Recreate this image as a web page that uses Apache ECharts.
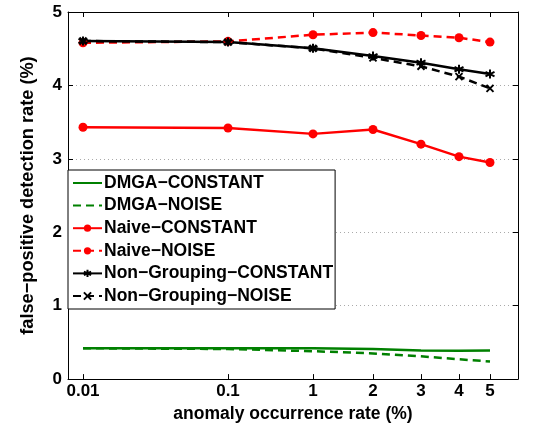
<!DOCTYPE html>
<html><head><meta charset="utf-8">
<script src="https://cdn.jsdelivr.net/npm/echarts@6/dist/echarts.min.js"></script>
<style>html,body{margin:0;padding:0;background:#fff}#c{width:546px;height:428px}</style>
</head><body><div id="c"></div>
<script>
// Category labels of the x axis and their (non-uniform) positions along the axis scale
const rateLabels = ['0.01', '0.1', '1', '2', '3', '4', '5'];
const ratePos = [0.15, 1.6, 2.45, 3.05, 3.53, 3.91, 4.22];
const xMin = 0, xMax = 4.5;
const yTicks = [0, 1, 2, 3, 4, 5];

const dmgaConstant = [0.42, 0.42, 0.42, 0.41, 0.39, 0.385, 0.39];
const dmgaNoise = [0.42, 0.41, 0.38, 0.35, 0.31, 0.27, 0.24];
const naiveConstant = [3.43, 3.42, 3.34, 3.40, 3.20, 3.03, 2.95];
const naiveNoise = [4.58, 4.60, 4.69, 4.72, 4.68, 4.65, 4.59];
const ngConstant = [4.605, 4.59, 4.505, 4.40, 4.31, 4.22, 4.155];
const ngNoise = [4.605, 4.59, 4.505, 4.375, 4.26, 4.12, 3.96];

const pair = arr => arr.map((v, i) => [ratePos[i], v]);
const FONT = 'Liberation Sans, Arial, sans-serif';
const asterisk = 'path://M0,-5 L0,5 M-4.3,-2.5 L4.3,2.5 M-4.3,2.5 L4.3,-2.5';
const cross = 'path://M-4,-4 L4,4 M-4,4 L4,-4';

function mk(name, data, color, dashed, symbol, size) {
  return {
    name, type: 'line', data: pair(data), color,
    lineStyle: { color, width: 2.5, type: dashed ? [8, 5] : 'solid' },
    symbol: symbol || 'none', symbolSize: size || 8, showSymbol: !!symbol,
    itemStyle: { color, borderColor: color, borderWidth: symbol && symbol.startsWith('path') ? 2 : 0 },
    emphasis: { disabled: true }, animation: false, z: 3
  };
}
const chart = echarts.init(document.getElementById('c'), null, { renderer: 'canvas' });
const tickLabel = v => { const i = ratePos.findIndex(p => Math.abs(p - v) < 1e-6); return i >= 0 ? rateLabels[i] : ''; };
const hidden = { opacity: 0 };
chart.setOption({
  animation: false,
  grid: { left: 68, right: 28, top: 12, bottom: 45, show: false },
  legend: {
    orient: 'vertical', left: 68, top: 170,
    backgroundColor: '#fff', borderColor: '#000', borderWidth: 1,
    padding: [4, 2, 4, 4], itemGap: 4.6, itemWidth: 29, itemHeight: 9,
    textStyle: { fontFamily: FONT, fontWeight: 'bold', fontSize: 17.5, color: '#000', padding: [0, 0, 0, -3] },
    data: [
      { name: 'DMGA\u2212CONSTANT', itemStyle: hidden },
      { name: 'DMGA\u2212NOISE', itemStyle: hidden },
      'Naive\u2212CONSTANT', 'Naive\u2212NOISE',
      'Non\u2212Grouping\u2212CONSTANT', 'Non\u2212Grouping\u2212NOISE'],
    z: 10
  },
  xAxis: [{
    type: 'value', min: xMin, max: xMax, position: 'bottom',
    name: 'anomaly occurrence rate (%)', nameLocation: 'middle', nameGap: 22,
    nameTextStyle: { fontFamily: FONT, fontWeight: 'bold', fontSize: 17.5, color: '#000' },
    axisLine: { show: true, onZero: false, lineStyle: { color: '#000', width: 1 } },
    axisTick: { show: true, inside: true, length: 5, customValues: ratePos, lineStyle: { color: '#000' } },
    axisLabel: { customValues: ratePos, formatter: tickLabel, fontFamily: FONT, fontWeight: 'bold', fontSize: 17, color: '#000', margin: 4 },
    splitLine: { show: false }
  }, {
    type: 'value', min: xMin, max: xMax, position: 'top',
    axisLine: { show: true, onZero: false, lineStyle: { color: '#000', width: 1 } },
    axisTick: { show: true, inside: true, length: 5, customValues: ratePos, lineStyle: { color: '#000' } },
    axisLabel: { show: false }, splitLine: { show: false }
  }],
  yAxis: [{
    type: 'value', min: 0, max: 5, interval: 1, position: 'left',
    name: 'false\u2212positive detection rate (%)', nameLocation: 'middle', nameGap: 31,
    nameTextStyle: { fontFamily: FONT, fontWeight: 'bold', fontSize: 18.2, color: '#000' },
    axisLine: { show: true, onZero: false, lineStyle: { color: '#000', width: 1 } },
    axisTick: { show: true, inside: true, length: 5, lineStyle: { color: '#000' } },
    axisLabel: { formatter: v => yTicks.includes(v) ? String(v) : '', fontFamily: FONT, fontWeight: 'bold', fontSize: 17, color: '#000', margin: 6 },
    splitLine: { show: true, lineStyle: { color: '#aaa', type: [1, 3], width: 1 } }
  }, {
    type: 'value', min: 0, max: 5, interval: 1, position: 'right',
    axisLine: { show: true, onZero: false, lineStyle: { color: '#000', width: 1 } },
    axisTick: { show: true, inside: true, length: 5, lineStyle: { color: '#000' } },
    axisLabel: { show: false }, splitLine: { show: false }
  }],
  series: [
    mk('DMGA\u2212CONSTANT', dmgaConstant, '#008000', false),
    mk('DMGA\u2212NOISE', dmgaNoise, '#008000', true),
    mk('Naive\u2212CONSTANT', naiveConstant, '#ff0000', false, 'circle', 9),
    mk('Naive\u2212NOISE', naiveNoise, '#ff0000', true, 'circle', 9),
    mk('Non\u2212Grouping\u2212CONSTANT', ngConstant, '#000000', false, asterisk, 9),
    mk('Non\u2212Grouping\u2212NOISE', ngNoise, '#000000', true, cross, 7)
  ]
});
</script></body></html>
